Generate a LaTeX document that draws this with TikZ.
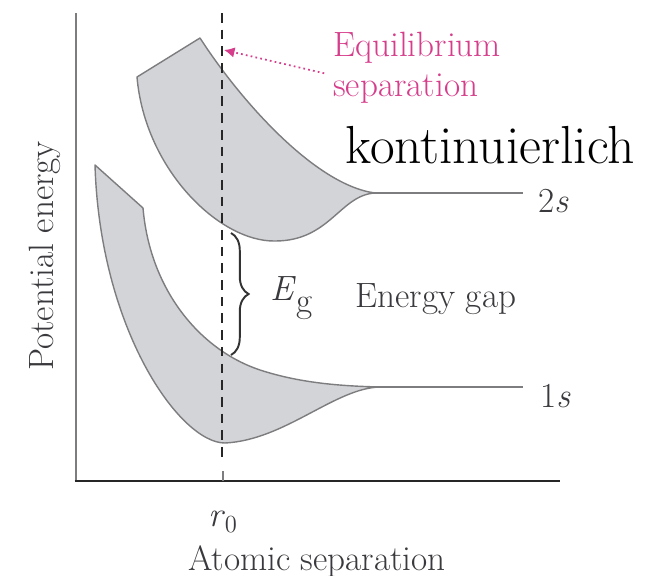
\documentclass[tikz,border=0pt]{standalone}
\usepackage{xcolor}
\usetikzlibrary{arrows.meta, positioning, decorations.pathreplacing}

\definecolor{bandgray}{RGB}{211,212,215}
\definecolor{edgegray}{RGB}{125,125,128}
\definecolor{eqpink}{RGB}{214,62,140}
\definecolor{labelgray}{RGB}{58,58,62}

\begin{document}
\begin{tikzpicture}[
  x=0.02cm, y=-0.02cm,
  every node/.style={font=\fontsize{20}{22.8}\selectfont, text=labelgray, inner sep=0pt},
  band/.style={fill=bandgray, draw=edgegray, line width=0.8pt, line join=round},
  level/.style={draw=edgegray, line width=1.1pt},
  guide/.style={line width=0.8pt, black!85, dash pattern=on 5.5pt off 4pt},
  arr/.style={-{Latex[length=6pt,width=6pt]}, eqpink, line width=1pt, dash pattern=on 1pt off 1.8pt}
]
  \useasboundingbox (0,0) rectangle (655,575);

  % axes
  \coordinate (origin) at (76,481);
  \coordinate (ytop) at (76,13);
  \coordinate (xend) at (560,481);
  \draw[edgegray, line width=1.5pt] (ytop) -- (origin);
  \draw[black!85, line width=1.5pt] ([xshift=-0.75pt]origin) -- (xend);

  % 2s band
  \draw[band] (137,77) -- (200,38) .. controls (240,100) and (315,185) .. (375,193)
    .. controls (340,195) and (330,241) .. (275,241)
    .. controls (220,242) and (145,170) .. (137,77) -- cycle;
  % 1s band
  \draw[band] (95,165) -- (143,208) .. controls (150,290) and (200,350) .. (260,370)
    .. controls (300,383) and (340,386) .. (380,387)
    .. controls (335,388) and (285,440) .. (225,443)
    .. controls (180,443) and (100,330) .. (95,165) -- cycle;

  % levels
  \coordinate (cusp2) at (372,193);
  \coordinate (end2) at (523,193);
  \coordinate (cusp1) at (378,387);
  \coordinate (end1) at (523,387);
  \draw[level] (cusp2) -- (end2);
  \draw[level] (cusp1) -- (end1);
  \node[anchor=base west] (lbl2s) at (538,212) {2\textit{s}};
  \node[anchor=base west] (lbl1s) at (540,407) {1\textit{s}};

  % equilibrium separation
  \coordinate (r0top) at (222,13);
  \coordinate (r0bot) at (222,462);
  \draw[guide] (r0top) -- (r0bot);
  \coordinate (ticktop) at (223,471);
  \draw[edgegray, line width=1pt] (ticktop) -- (origin -| ticktop);
  \node (r0) at (223,522) {\textit{r}\textsubscript{0}};

  % gap
  \coordinate (gaptop) at (231,233);
  \coordinate (gapbot) at (231,355);
  \draw[decorate, decoration={brace, amplitude=10pt}, line width=1.1pt, black!80] (gaptop) -- (gapbot);
  \node[anchor=base west] (eg) at (270,300) {\textit{E}\raisebox{-0.36em}{g}};
  \node[anchor=base west] (gap) at (355,307) {Energy gap};

  % labels
  \node[anchor=north west, align=left, text=eqpink] (eqlbl) at (333,32) {Equilibrium\\separation};
  \coordinate (eqtip) at (224,50);
  \draw[arr] ([xshift=-5pt, yshift=-3pt]eqlbl.west) -- (eqtip);
  \node[anchor=base west, text=black, font=\fontsize{30.5}{34}\selectfont] (kont) at (345,163) {kontinuierlich};
  \node[rotate=90, anchor=base] (ylbl) at (53,256) {Potential energy};
  \node[anchor=base] (xlbl) at (317,570) {Atomic separation};
\end{tikzpicture}
\end{document}
